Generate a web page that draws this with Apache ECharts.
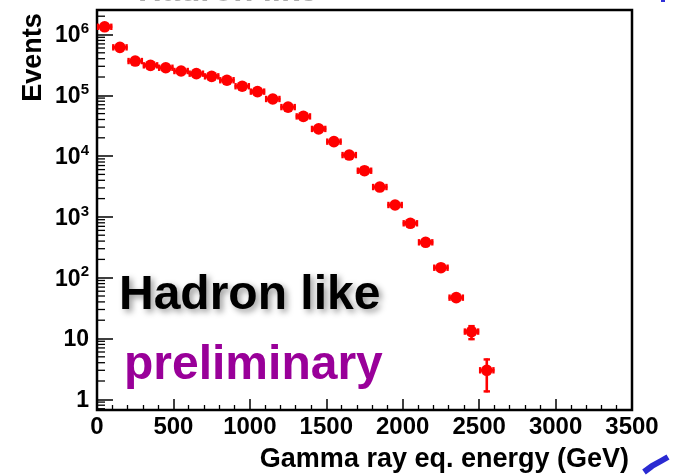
<!DOCTYPE html>
<html>
<head>
<meta charset="utf-8">
<script src="https://cdn.jsdelivr.net/npm/echarts@6/dist/echarts.min.js"></script>
<style>
  html, body { margin: 0; padding: 0; background: #fff; }
  #chart { width: 675px; height: 476px; }
</style>
</head>
<body>
<div id="chart"></div>
<script>
// Energy bin centres (GeV), 100 GeV wide bins
const energyGeV = [50, 150, 250, 350, 450, 550, 650, 750, 850, 950, 1050, 1150, 1250,
                   1350, 1450, 1550, 1650, 1750, 1850, 1950, 2050, 2150, 2250, 2350, 2450, 2550];
// Event counts per bin
const events = [1340000, 615000, 366000, 311000, 284000, 251000, 227000, 205000, 177000,
                141000, 115000, 87000, 64000, 45000, 28000, 17300, 10400, 5750, 3100,
                1570, 785, 382, 146, 47, 13, 3];
// Statistical uncertainty on each count
const eventErrors = [1158, 784, 605, 558, 533, 501, 476, 453, 421, 375, 339, 295, 253,
                     212, 167, 132, 102, 76, 56, 40, 28, 20, 12, 6.9, 3.6, 1.7];
const binWidthGeV = 100;

// Log-axis minor tick positions (2..9 within each decade)
const decadeStarts = [0.1, 1, 10, 100, 1000, 10000, 100000, 1000000];
const minorMultipliers = [2, 3, 4, 5, 6, 7, 8, 9];

const Y_MIN = 0.667, Y_MAX = 2.53e6;
const FONT = '"Liberation Sans", Arial, Helvetica, sans-serif';

const minorTickValues = [];
decadeStarts.forEach(d => minorMultipliers.forEach(m => {
  const v = d * m;
  if (v > Y_MIN && v < Y_MAX) minorTickValues.push([0, v]);
}));

const points = energyGeV.map((e, i) => [e, events[i], eventErrors[i]]);

const chart = echarts.init(document.getElementById('chart'), null, { renderer: 'canvas' });

function logLabel(v) {
  const p = Math.log10(v);
  const n = Math.round(p);
  if (Math.abs(p - n) > 1e-6) return '';
  if (n === 0) return '{b|1}';
  if (n === 1) return '{b|10}';
  return '{b|10}{s|' + n + '}';
}

chart.setOption({
  animation: false,
  backgroundColor: '#fff',
  grid: {
    left: 97, right: 43, top: 10, bottom: 66,
    show: true, borderColor: '#000', borderWidth: 2.5, backgroundColor: 'transparent'
  },
  xAxis: {
    type: 'value', min: 0, max: 3500, interval: 500,
    axisLine: { show: false },
    axisTick: { show: true, inside: true, length: 11, lineStyle: { color: '#000', width: 1.5 } },
    minorTick: { show: true, splitNumber: 5, length: 5, lineStyle: { color: '#000', width: 1.3 } },
    splitLine: { show: false },
    axisLabel: {
      color: '#000', fontFamily: FONT, fontWeight: 'bold', fontSize: 24, margin: 5,
      formatter: v => String(v)
    }
  },
  yAxis: {
    type: 'log', logBase: 10, min: Y_MIN, max: Y_MAX, splitNumber: 7,
    axisLine: { show: false },
    axisTick: { show: true, inside: true, length: 16, lineStyle: { color: '#000', width: 1.5 } },
    minorTick: { show: false },
    splitLine: { show: false },
    axisLabel: {
      margin: 8,
      formatter: logLabel,
      rich: {
        b: { color: '#000', fontFamily: FONT, fontWeight: 'bold', fontSize: 23, lineHeight: 26, verticalAlign: 'bottom' },
        s: { color: '#000', fontFamily: FONT, fontWeight: 'bold', fontSize: 15, lineHeight: 26, verticalAlign: 'top' }
      }
    }
  },
  series: [
    {
      // minor ticks of the logarithmic y axis
      type: 'custom', silent: true, z: 1, clip: false,
      data: minorTickValues,
      renderItem(params, api) {
        const p = api.coord([0, api.value(1)]);
        return {
          type: 'line',
          shape: { x1: p[0], y1: p[1], x2: p[0] + 8, y2: p[1] },
          style: { stroke: '#000', lineWidth: 1.3 }
        };
      }
    },
    {
      // histogram points with bin-width and statistical error bars
      type: 'custom', z: 3,
      data: points,
      renderItem(params, api) {
        const x = api.value(0), y = api.value(1), e = api.value(2);
        const c = api.coord([x, y]);
        const l = api.coord([x - binWidthGeV / 2, y]);
        const r = api.coord([x + binWidthGeV / 2, y]);
        const t = api.coord([x, y + e]);
        const b = api.coord([x, Math.max(y - e, Y_MIN)]);
        const red = '#ff0000';
        const line = (x1, y1, x2, y2, w) => ({
          type: 'line', shape: { x1, y1, x2, y2 }, style: { stroke: red, lineWidth: w }
        });
        const kids = [
          line(l[0], c[1], r[0], c[1], 2.6),
          line(l[0] + 1, c[1] - 3.2, l[0] + 1, c[1] + 3.2, 2.4),
          line(r[0] - 1, c[1] - 3.2, r[0] - 1, c[1] + 3.2, 2.4),
          line(c[0], t[1], c[0], b[1], 2.6)
        ];
        if (c[1] - t[1] > 6) kids.push(line(c[0] - 3.2, t[1] + 1, c[0] + 3.2, t[1] + 1, 2.4));
        if (b[1] - c[1] > 6) kids.push(line(c[0] - 3.2, b[1] - 1, c[0] + 3.2, b[1] - 1, 2.4));
        kids.push({ type: 'circle', shape: { cx: c[0], cy: c[1], r: 5.8 }, style: { fill: red } });
        return { type: 'group', children: kids };
      }
    }
  ],
  graphic: [
    {
      type: 'text', rotation: Math.PI / 2, x: 33.5, y: 57.5,
      style: { text: 'Events', font: 'bold 27px ' + FONT, fill: '#000', align: 'center', verticalAlign: 'middle' }
    },
    {
      type: 'text', x: 629, y: 460,
      style: { text: 'Gamma ray eq. energy (GeV)', font: 'bold 27px ' + FONT, fill: '#000', align: 'right', verticalAlign: 'middle' }
    },
    {
      type: 'text', x: 119, y: 296,
      style: {
        text: 'Hadron like', font: 'bold 48px ' + FONT, fill: '#000', align: 'left', verticalAlign: 'middle',
        textShadowColor: 'rgba(0,0,0,0.4)', textShadowBlur: 6, textShadowOffsetX: 3, textShadowOffsetY: 3
      }
    },
    {
      type: 'text', x: 124, y: 366,
      style: { text: 'preliminary', font: 'bold 48px ' + FONT, fill: '#990099', align: 'left', verticalAlign: 'middle' }
    },
    {
      type: 'text', x: 138, y: -8.5,
      style: { text: 'Hadron like', font: 'bold 33px ' + FONT, fill: '#acacac', align: 'left', verticalAlign: 'middle' }
    },
    {
      type: 'polyline',
      shape: { points: [[644, 472], [652, 466], [661, 461], [668, 457]] },
      style: { stroke: '#2a2ad2', lineWidth: 6, fill: null }
    },
    {
      type: 'rect', shape: { x: 661, y: 0, width: 4, height: 2 },
      style: { fill: '#3030d8' }
    }
  ]
});
</script>
</body>
</html>
